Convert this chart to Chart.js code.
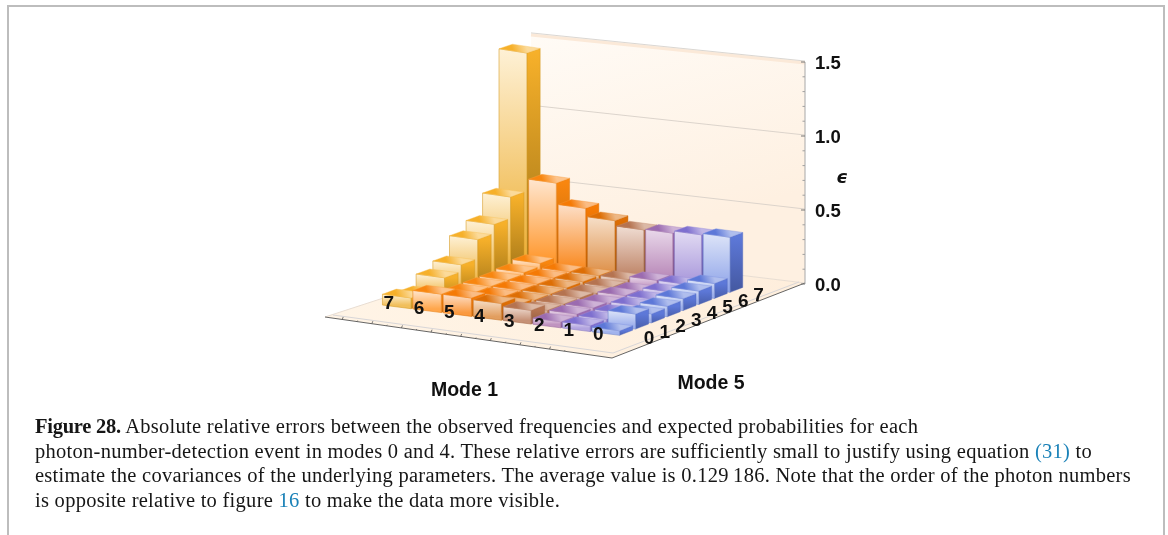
<!DOCTYPE html>
<html><head><meta charset="utf-8">
<style>
html,body{margin:0;padding:0;background:#fff;width:1168px;height:535px;overflow:hidden}
#c{position:absolute;left:0;top:0;filter:blur(0.4px)}
.frame{position:absolute;background:#bdbdbd}
.cap{position:absolute;left:35px;font:20.5px/24px "Liberation Serif",serif;letter-spacing:.27px;color:#161616;white-space:nowrap;filter:blur(0.25px)}
.cap b{letter-spacing:-.25px}
.cap a{color:#1b82b8;text-decoration:none}
</style></head><body>
<div class="frame" style="left:7px;top:5px;width:1157px;height:1.5px"></div>
<div class="frame" style="left:7px;top:5px;width:1.5px;height:530px"></div>
<div class="frame" style="left:1163px;top:5px;width:1.5px;height:530px"></div>
<canvas id="c" width="1168" height="535"></canvas>
<div class="cap" style="top:414px"><b>Figure 28.</b> Absolute relative errors between the observed frequencies and expected probabilities for each</div>
<div class="cap" style="top:438.5px">photon-number-detection event in modes 0 and 4. These relative errors are sufficiently small to justify using equation <a>(31)</a> to</div>
<div class="cap" style="top:463px">estimate the covariances of the underlying parameters. The average value is 0.129&#8201;186. Note that the order of the photon numbers</div>
<div class="cap" style="top:487.5px">is opposite relative to figure <a>16</a> to make the data more visible.</div>
<script src="https://cdn.jsdelivr.net/npm/chart.js@4"></script>
<script>
// ---------- data: one list per Mode 1 photon number, indexed by Mode 5 = 0..7 ----------
const mode1Labels = ["7","6","5","4","3","2","1","0"];
const mode5Labels = ["0","1","2","3","4","5","6","7"];
const mode1_7 = [0.07,0.05,0.12,0.165,0.29,0.35,0.49,1.40];
const mode1_6 = [0.12,0.05,0.05,0.05,0.05,0.06,0.08,0.57];
const mode1_5 = [0.12,0.05,0.05,0.05,0.05,0.05,0.05,0.43];
const mode1_4 = [0.11,0.06,0.05,0.05,0.05,0.05,0.05,0.375];
const mode1_3 = [0.09,0.05,0.05,0.05,0.04,0.04,0.05,0.34];
const mode1_2 = [0.04,0.05,0.05,0.04,0.05,0.04,0.07,0.345];
const mode1_1 = [0.04,0.04,0.04,0.05,0.05,0.06,0.07,0.36];
const mode1_0 = [0.03,0.10,0.06,0.07,0.08,0.09,0.10,0.37];
const columns = [mode1_7,mode1_6,mode1_5,mode1_4,mode1_3,mode1_2,mode1_1,mode1_0];
const axisTicks = [0,0.5,1.0,1.5];
const zAxisTitle = "\u03F5", xAxisTitle = "Mode 1", yAxisTitle = "Mode 5";

// ---------- colours per Mode 1 column ----------
const paleTop  = ["#FEF1D6","#FFE6CF","#FDDFC8","#F6DFC9","#F0DDD3","#E9D8EA","#E2DBF3","#DDE4F8"];
const deepFace = ["#EDAE32","#FF9324","#F98416","#DC8A3E","#B87858","#B07AB0","#A08FD8","#8AA0E8"];
const sideTop  = ["#F6B02A","#F8860F","#F57A05","#DD6E05","#B57350","#9B6BB0","#7E6FCF","#5D78D8"];
const sideLow  = ["#A07418","#B8600A","#B05804","#96500C","#7E5038","#6C4A7C","#584E90","#3F5296"];

// ---------- camera: maps the bar grid floor (0..8 x 0..8) to stage units ----------
function solveH(p){ // unit square -> quad (p00,p10,p11,p01)
  const [a,b,c,d]=p, dx1=b[0]-c[0], dx2=d[0]-c[0], sx=a[0]-b[0]+c[0]-d[0],
    dy1=b[1]-c[1], dy2=d[1]-c[1], sy=a[1]-b[1]+c[1]-d[1], det=dx1*dy2-dx2*dy1,
    g=(sx*dy2-dx2*sy)/det, h=(dx1*sy-sx*dy1)/det;
  return {a:b[0]-a[0]+g*b[0], b:d[0]-a[0]+h*d[0], c:a[0], d:b[1]-a[1]+g*b[1], e:d[1]-a[1]+h*d[1], f:a[1], g, h};
}
const H = solveH([[380,305.5],[619,336],[745,287],[513,256]]);
function floorPoint(X,Y){
  const s=X/8,t=Y/8,w=H.g*s+H.h*t+1;
  return {x:(H.a*s+H.b*t+H.c)/w, y:(H.d*s+H.e*t+H.f)/w, w};
}
const wRef = floorPoint(8.8,8.8).w;
const GAPX=0.03, GAPY=0.09;

function hexRgb(h){return [1,3,5].map(i=>parseInt(h.substr(i,2),16));}
function mix(a,b,t){const A=hexRgb(a),B=hexRgb(b);return `rgb(${A.map((v,i)=>Math.round(v+(B[i]-v)*t)).join(",")})`;}

function poly(ctx,pts,fill,stroke,lw){
  ctx.beginPath();pts.forEach((p,i)=>i?ctx.lineTo(p.x,p.y):ctx.moveTo(p.x,p.y));ctx.closePath();
  ctx.fillStyle=fill;ctx.fill();
  if(stroke){ctx.strokeStyle=stroke;ctx.lineWidth=lw||0.7;ctx.stroke();}
}
function grad(ctx,a,b,c0,c1){const g=ctx.createLinearGradient(a.x,a.y,b.x,b.y);g.addColorStop(0,c0);g.addColorStop(1,c1);return g;}

const stage = {L:[325,317],F:[612,358],R:[805,283],B:[531,250]};

const bars3d = {
  id:'bars3d',
  beforeDatasetsDraw(chart){
    const {ctx,scales:{x:xs,y:ys}}=chart;
    const perUnit=(ys.getPixelForValue(0)-ys.getPixelForValue(1));
    const P=(X,Y,z)=>{const f=floorPoint(X,Y);
      return {x:xs.getPixelForValue(f.x), y:f.y-(ys.getPixelForValue(0)-ys.getPixelForValue(z))*wRef/f.w};};
    const S=q=>({x:xs.getPixelForValue(q[0]),y:q[1]});
    const L=S(stage.L),F=S(stage.F),R=S(stage.R),B=S(stage.B);
    const wallY=(pt,z,k)=>({x:pt.x,y:pt.y-perUnit*z*k});
    ctx.save();
    // back wall
    const top=[wallY(B,1.5,0.978),wallY(R,1.5,1)];
    poly(ctx,[top[0],top[1],R,B],grad(ctx,top[0],{x:top[0].x+60,y:B.y},"#FFFBF6","#FEF0E1"));
    // floor
    poly(ctx,[L,F,R,B],grad(ctx,L,R,"#FFF4E6","#FEEEDC"));
    // wall band and grid lines
    ctx.lineCap='butt';
    ctx.strokeStyle='#FBE9D8';ctx.lineWidth=3;
    ctx.beginPath();ctx.moveTo(top[0].x,top[0].y+2);ctx.lineTo(top[1].x,top[1].y+2);ctx.stroke();
    ctx.strokeStyle='#D6D2CE';ctx.lineWidth=0.9;
    ctx.beginPath();ctx.moveTo(top[0].x,top[0].y);ctx.lineTo(top[1].x,top[1].y);ctx.stroke();
    axisTicks.slice(1,3).forEach(v=>{const a=wallY(B,v,0.978),b=wallY(R,v,1);
      ctx.strokeStyle='#D8D0C8';ctx.lineWidth=0.9;
      ctx.beginPath();ctx.moveTo(a.x,a.y);ctx.lineTo(b.x,b.y);ctx.stroke();});
    // floor border
    ctx.strokeStyle='#E8DDD2';ctx.lineWidth=1;
    ctx.beginPath();ctx.moveTo(L.x,L.y);ctx.lineTo(B.x,B.y);ctx.lineTo(R.x,R.y);ctx.stroke();
    ctx.strokeStyle='#D8D6D8';
    ctx.beginPath();ctx.moveTo(L.x+8,L.y-2);ctx.lineTo(F.x+1,F.y-5);ctx.lineTo(R.x-6,R.y-1);ctx.stroke();
    ctx.strokeStyle='#555';ctx.lineWidth=0.9;
    ctx.beginPath();ctx.moveTo(L.x,L.y);ctx.lineTo(F.x,F.y);ctx.lineTo(R.x,R.y);ctx.stroke();
    // floor ticks on the Mode 1 edge
    ctx.strokeStyle='#555';ctx.lineWidth=0.8;
    mode1Labels.forEach((_,i)=>{[0,0.5].forEach(h=>{
      const t=0.06+0.1032*(i+h);
      const x=L.x+(F.x-L.x)*t,y=L.y+(F.y-L.y)*t;
      ctx.beginPath();ctx.moveTo(x,y);ctx.lineTo(x+(h?0.6:1),y-(h?1:2.5));ctx.stroke();});});
    // ε axis
    ctx.strokeStyle='#A8A8A8';ctx.lineWidth=1;
    const ax=xs.right;
    ctx.beginPath();ctx.moveTo(ax,ys.getPixelForValue(1.5));ctx.lineTo(ax,ys.getPixelForValue(0));ctx.stroke();
    ys.ticks.forEach(t=>{const y=ys.getPixelForValue(t.value);
      const major=axisTicks.some(v=>Math.abs(v-t.value)<1e-6);
      ctx.strokeStyle=major?'#777':'#A0A0A0';
      ctx.beginPath();ctx.moveTo(ax,y);ctx.lineTo(ax-(major?4:2.5),y);ctx.stroke();});
    // bars: back rows first, left columns first
    const ds=chart.data.datasets;
    for(let r=7;r>=0;r--){
      ds.forEach((d,c)=>{
        const z=d.data[r].y;
        const x0=c+GAPX,x1=c+1-GAPX,y0=r+GAPY,y1=r+1-GAPY;
        const fl0=P(x0,y0,0),fr0=P(x1,y0,0),br0=P(x1,y1,0);
        const fl=P(x0,y0,z),fr=P(x1,y0,z),br=P(x1,y1,z),bl=P(x0,y1,z);
        const t=0.7+0.3*Math.min(1,z/0.5), ts=0.6+0.4*Math.min(1,z/0.6);
        // side
        poly(ctx,[fr0,br0,br,fr],grad(ctx,{x:fr.x,y:fr.y},{x:fr.x,y:fr0.y},sideTop[c],mix(sideTop[c],sideLow[c],ts)),mix(sideTop[c],sideLow[c],0.5),0.4);
        // front
        poly(ctx,[fl0,fr0,fr,fl],grad(ctx,{x:fl.x,y:fl.y},{x:fl.x,y:fl0.y},paleTop[c],mix(paleTop[c],deepFace[c],t)),mix(deepFace[c],sideLow[c],0.3),0.6);
        // top
        poly(ctx,[fl,fr,br,bl],grad(ctx,{x:(fl.x+fr.x)/2,y:(fl.y+fr.y)/2},{x:(bl.x+br.x)/2,y:(bl.y+br.y)/2},sideTop[c],mix(sideTop[c],paleTop[c],0.65)),mix(sideTop[c],"#FFFFFF",0.2),0.4);
      });
    }
    ctx.restore();
  },
  afterDatasetsDraw(chart){
    const {ctx,scales:{x:xs}}=chart;
    ctx.save();
    ctx.fillStyle='#111';ctx.textAlign='center';ctx.textBaseline='middle';
    ctx.font='bold 19px "Liberation Sans",Arial,sans-serif';
    mode1Labels.forEach((s,c)=>{const f=floorPoint(c*1.04+0.04,0.44-0.07*c);ctx.fillText(s,xs.getPixelForValue(f.x),f.y+1);});
    mode5Labels.forEach((s,r)=>{const f=floorPoint(8.9,r+0.23);ctx.fillText(s,xs.getPixelForValue(f.x),f.y+1);});
    ctx.font='bold 19.5px "Liberation Sans",Arial,sans-serif';
    ctx.fillText(xAxisTitle,464.5,390.5);
    ctx.fillText(yAxisTitle,711,383.5);
    ctx.font='italic bold 18px "DejaVu Sans",sans-serif';
    ctx.fillText(zAxisTitle,842,178);
    ctx.restore();
  }
};

const pxPerUnit=148, y0px=284, yMin=-0.6, yMax=1.7;
new Chart(document.getElementById('c'),{
  type:'scatter',
  data:{datasets:columns.map((vals,c)=>({
    label:"Mode 1 = "+mode1Labels[c],
    data:vals.map((v,r)=>({x:floorPoint(c+0.5,r+0.5).x,y:v})),
    pointRadius:0,showLine:false
  }))},
  options:{
    responsive:false,animation:false,
    layout:{padding:{top:y0px-yMax*pxPerUnit,bottom:535-(y0px-yMin*pxPerUnit),left:0,right:0}},
    plugins:{legend:{display:false},tooltip:{enabled:false},title:{display:false}},
    scales:{
      x:{type:'linear',min:0,max:805,display:false},
      y:{type:'linear',position:'right',min:yMin,max:yMax,
        grid:{display:false},border:{display:false},
        afterFit(s){s.width=1168-805;},
        afterBuildTicks(s){s.ticks=s.ticks.filter(t=>t.value>-1e-6&&t.value<1.5+1e-6);},
        ticks:{stepSize:0.1,autoSkip:false,padding:2,labelOffset:1.5,color:'#111',
          font:{family:'"Liberation Sans",Arial,sans-serif',size:18.5,weight:'bold'},
          callback(v){return axisTicks.some(a=>Math.abs(a-v)<1e-6)?v.toFixed(1):'';}}
      }
    }
  },
  plugins:[bars3d]
});
</script>
</body></html>
